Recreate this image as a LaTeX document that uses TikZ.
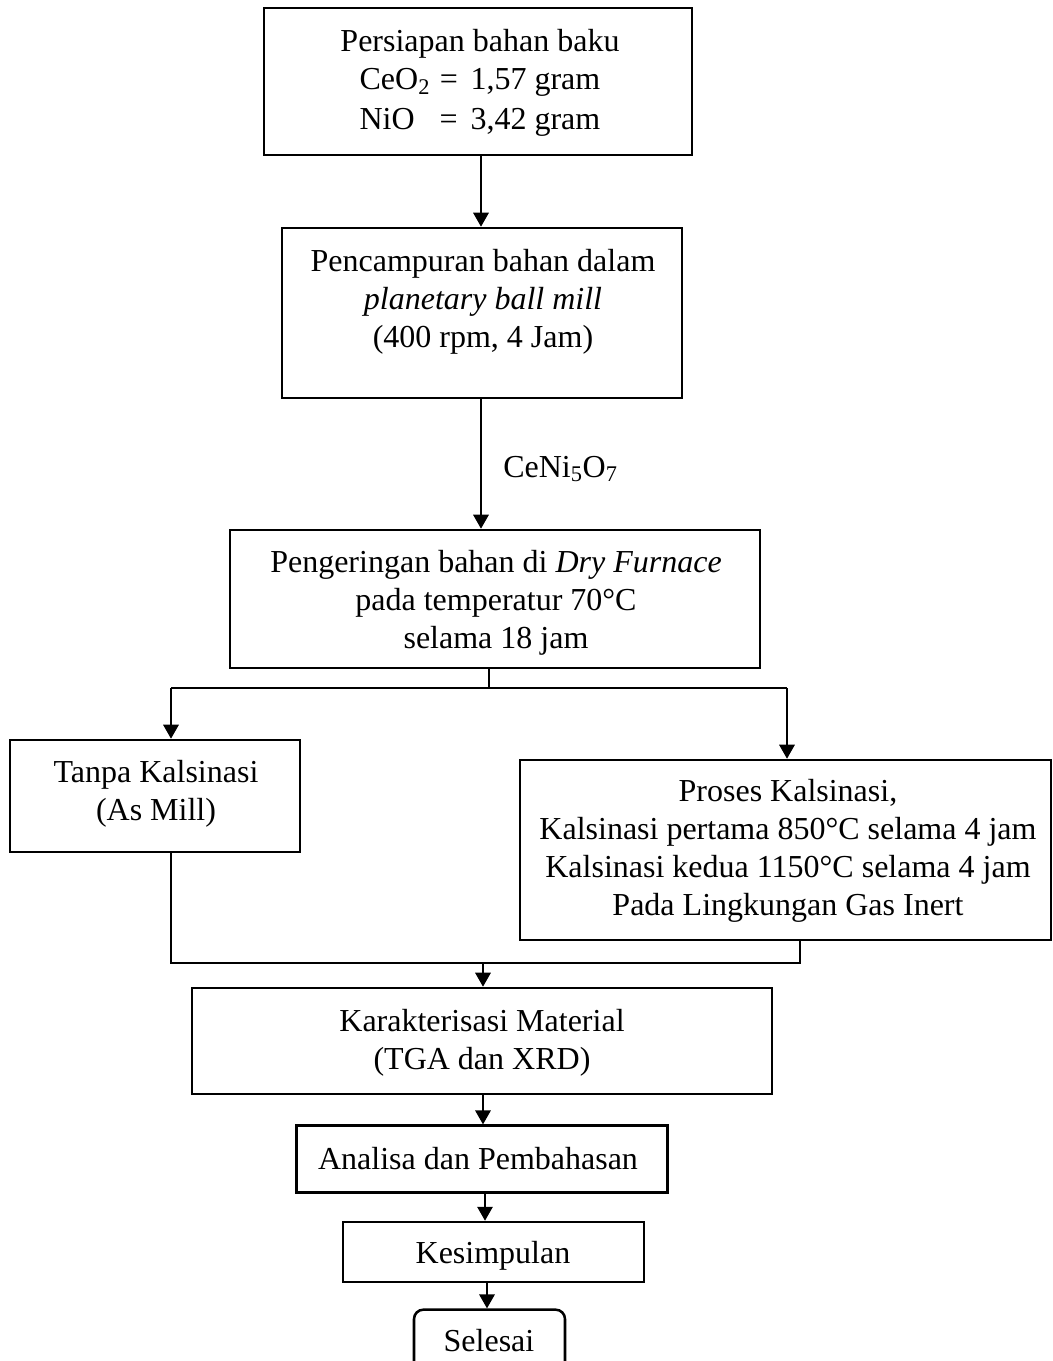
\documentclass[tikz,border=0pt]{standalone}
\usepackage{fontspec}
\setmainfont{Liberation Serif}
\usetikzlibrary{arrows.meta}
\tikzset{
  box/.style={draw, line width=1.9pt, inner sep=0pt},
  txt/.style={align=center, inner sep=0pt, font=\fontsize{24}{28.5}\selectfont},
  conn/.style={line width=1.6pt},
  arr/.style={line width=1.6pt, -{Triangle[length=10.5pt,width=11.5pt]}}
}
\begin{document}
\begin{tikzpicture}[x=0.75pt, y=-0.75pt]
\useasboundingbox (0,0) rectangle (1053,1361);
\clip (0,0) rectangle (1053,1361);
% boxes
\node[box, minimum width=321pt, minimum height=110.25pt] (b1) at (478,81.5) {};
\node[box, minimum width=300pt, minimum height=127.5pt] (b2) at (482,313) {};
\node[box, minimum width=397.5pt, minimum height=103.5pt] (b3) at (495,599) {};
\node[box, minimum width=217.5pt, minimum height=84pt] (b4) at (155,796) {};
\node[box, minimum width=398.25pt, minimum height=135pt] (b5) at (785.5,850) {};
\node[box, minimum width=435pt, minimum height=79.5pt] (b6) at (482,1041) {};
\node[box, minimum width=278.25pt, minimum height=50pt] (b7) at (482,1159) {};
\node[box, minimum width=225.75pt, minimum height=45pt] (b8) at (493.5,1252) {};
\node[box, rounded corners=7pt, minimum width=113.25pt, minimum height=50pt] (b9) at (489.5,1343) {};
% texts
\node[txt] (t1) at (480,85) {Persiapan bahan baku\\[2.5pt]
  \begin{tabular}{@{}l@{\hspace{0.3em}=\hspace{0.4em}}l@{}}
  CeO\textsubscript{2} & 1,57 gram\\[2pt]
  NiO & 3,42 gram
  \end{tabular}};
\node[txt] (t2) at (483,302) {Pencampuran bahan dalam\\\textit{planetary ball mill}\\(400 rpm, 4 Jam)};
\node[txt] (t3) at (496,603) {Pengeringan bahan di \textit{Dry Furnace}\\pada temperatur 70°C\\selama 18 jam};
\node[txt] (t4) at (156,793.5) {Tanpa Kalsinasi\\(As Mill)};
\node[txt] (t5) at (788,851) {Proses Kalsinasi,\\Kalsinasi pertama 850°C selama 4 jam\\Kalsinasi kedua 1150°C selama 4 jam\\Pada Lingkungan Gas Inert};
\node[txt] (t6) at (482,1043) {Karakterisasi Material\\(TGA dan XRD)};
\node[txt] (t7) at (478,1158.5) {Analisa dan Pembahasan};
\node[txt] (t8) at (493,1256) {Kesimpulan};
\node[txt] (t9) at (489,1341) {Selesai};
\node[txt, anchor=west] (lbl) at (503,469) {CeNi\textsubscript{5}O\textsubscript{7}};
% junction coordinates
\coordinate (s1) at (481,0);
\coordinate (ja) at (489,688);
\coordinate (jl) at (171,688);
\coordinate (jr) at (787,688);
\coordinate (ml) at (171,963);
\coordinate (mr) at (800,963);
\coordinate (mc) at (483,963);
% connectors
\draw[arr] (b1.south -| s1) -- (b2.north -| s1);
\draw[arr] (b2.south -| s1) -- (b3.north -| s1);
\draw[conn] (b3.south -| ja) -- (ja);
\draw[conn] (jl) -- (jr);
\draw[arr] (jl) -- (jl |- b4.north);
\draw[arr] (jr) -- (jr |- b5.north);
\draw[conn] (b4.south -| ml) -- (ml) -- (mr) -- (b5.south -| mr);
\draw[arr] (mc) -- (mc |- b6.north);
\draw[arr] (b6.south -| mc) -- (b7.north -| mc);
\coordinate (c8) at (485,0);
\draw[arr] (b7.south -| c8) -- (b8.north -| c8);
\coordinate (c9) at (487,0);
\draw[arr] (b8.south -| c9) -- (b9.north -| c9);
\end{tikzpicture}
\end{document}
